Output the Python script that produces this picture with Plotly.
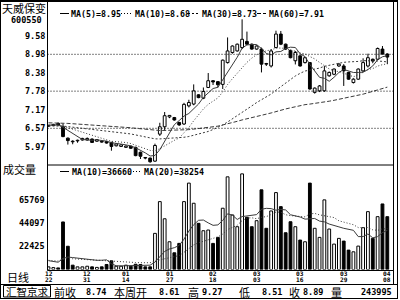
import plotly.graph_objects as go

# ---------------- data ----------------
stock_name = "天威保变"
stock_code = "600550"

opens = [6.64, 6.66, 6.73, 6.62, 6.25, 6.15, 6.16, 6.19, 6.19, 6.22,
         6.15, 6.15, 6.14, 6.11, 6.00, 5.98, 5.95, 5.99, 5.95, 5.79,
         5.61, 5.60, 5.50, 6.38, 6.62, 6.94, 6.92, 6.76, 6.71, 7.30,
         7.36, 7.66, 7.55, 7.90, 8.12, 8.09, 8.00, 8.71, 9.04, 9.09,
         9.20, 9.40, 9.31, 9.15, 9.15, 8.67, 8.60, 9.20, 9.64, 9.31,
         9.11, 8.77, 8.93, 8.71, 8.71, 7.74, 7.79, 7.79, 8.28, 8.33,
         8.60, 8.60, 8.39, 8.06, 8.17, 8.44, 8.60, 8.82, 8.82, 9.15,
         8.99]
highs = [6.68, 6.72, 6.76, 6.72, 6.27, 6.18, 6.20, 6.26, 6.27, 6.24,
         6.22, 6.17, 6.16, 6.13, 6.08, 6.05, 6.01, 6.00, 5.97, 5.81,
         5.63, 5.62, 6.07, 6.75, 7.10, 7.00, 6.94, 6.78, 7.40, 7.50,
         8.00, 7.68, 7.90, 8.37, 8.14, 8.11, 8.81, 9.53, 9.27, 9.33,
         10.12, 9.72, 9.33, 9.27, 9.20, 8.70, 9.15, 9.75, 9.74, 9.33,
         9.13, 9.09, 8.95, 8.90, 8.73, 7.90, 7.98, 8.60, 8.42, 8.52,
         8.70, 8.66, 8.41, 8.20, 8.52, 8.85, 9.00, 8.84, 9.20, 9.25,
         9.01]
lows = [6.62, 6.64, 6.66, 6.28, 6.04, 6.05, 6.10, 6.17, 6.17, 6.10,
        6.13, 6.10, 6.07, 5.84, 5.98, 5.96, 5.93, 5.90, 5.66, 5.57,
        5.56, 5.45, 5.48, 6.32, 6.49, 6.90, 6.82, 6.65, 6.68, 7.25,
        7.32, 7.55, 7.52, 7.88, 7.98, 7.90, 7.85, 8.68, 9.00, 9.07,
        9.15, 9.28, 9.13, 9.13, 8.39, 8.60, 8.55, 9.18, 9.28, 9.12,
        8.85, 8.65, 8.58, 8.68, 7.83, 7.70, 7.75, 7.76, 8.25, 8.30,
        8.57, 7.95, 8.15, 8.03, 8.15, 8.40, 8.55, 8.69, 8.80, 8.97,
        8.66]
closes = [6.66, 6.69, 6.68, 6.30, 6.17, 6.13, 6.18, 6.24, 6.24, 6.11,
          6.20, 6.12, 6.09, 5.98, 6.06, 6.03, 5.99, 5.92, 5.68, 5.66,
          5.60, 5.48, 6.01, 6.62, 6.98, 6.99, 6.84, 6.68, 7.35, 7.41,
          7.79, 7.57, 7.77, 8.12, 8.08, 7.99, 8.79, 9.09, 9.25, 9.31,
          9.47, 9.31, 9.15, 9.25, 8.66, 8.66, 9.09, 9.64, 9.31, 9.15,
          8.87, 9.04, 8.60, 8.87, 7.85, 7.88, 7.95, 8.44, 8.39, 8.50,
          8.66, 8.44, 8.17, 8.17, 8.50, 8.71, 8.87, 8.76, 9.17, 8.99,
          8.89]
volumes = [2500, 1800, 1500, 45000, 22000, 4100, 2500, 2500, 3100, 2500,
           2000, 2500, 4750, 8200, 3100, 3100, 4100, 3100, 5000, 4700,
           2500, 2500, 34200, 64250, 48000, 26250, 15800, 24700, 64250, 81750,
           62700, 43700, 36700, 37350, 24700, 30400, 58000, 87700, 51600, 40500,
           90500, 49400, 40500, 46200, 75400, 39000, 55400, 72800, 59500, 34800,
           45200, 40500, 27850, 26250, 81750, 39000, 30400, 65900, 38300, 24050,
           29450, 26900, 18350, 16750, 22150, 39550, 54750, 29450, 50000, 62050,
           50000]

date_tick_index = [0, 8, 16, 25, 34, 43, 52, 61, 70]
date_tick_month = ["12", "12", "01", "01", "02", "03", "03", "03", "04"]
date_tick_day = ["22", "31", "14", "27", "18", "03", "16", "29", "08"]

price_ticks = [9.58, 8.98, 8.38, 7.78, 7.17, 6.57, 5.97]
price_grid = [8.98, 7.78, 6.57]
volume_ticks = [65769, 44097, 22425]

ma_periods = [5, 10, 30, 60]
ma_start_level = [6.68, 6.68, 6.65, 6.75]     # level of each MA at the left edge
ma_legend = ["MA(5)=8.95", "MA(10)=8.68", "MA(30)=8.73", "MA(60)=7.91"]
vol_ma_periods = [10, 20]
vol_ma_start_level = [9000, 9000]
vol_ma_legend = ["MA(10)=36660", "MA(20)=38254"]

footer_code_name = "汇智京求"
footer_labels = ["前收", "本周开", "高", "低", "收", "量"]
footer_values = ["8.74", "8.61", "9.27", "8.51", "8.89", "243995"]

# ---------------- geometry ----------------
W, H = 400, 300
def px(x): return x / W
def py(y): return 1 - y / H

X0, DX = 48.5, 4.84
PLOT_L, PLOT_R = 47.5, 393.5
PRICE_A, PRICE_K = 330.0, 30.7
PRICE_TOP, PRICE_BOT = 3.0, 164.5
VOL_ZERO, VOL_K = 269.5, 946.4
VOL_TOP = 166.0

def price_at(y): return (PRICE_A - y) / PRICE_K
def vol_at(y): return (VOL_ZERO - y) * VOL_K

n = len(closes)
idx = list(range(n))

def seeded_ma(vals, period, start):
    padded = [start] * (period - 1) + list(vals)
    return [sum(padded[i:i + period]) / period for i in range(n)]

MONO = "DejaVu Sans Mono"
CJK = "Noto Sans CJK SC"
LINE_C = "#3a3a3a"

fig = go.Figure()

# wicks (drawn outside bodies so hollow candles stay hollow)
wx, wy = [], []
for i in idx:
    top = max(opens[i], closes[i]); bot = min(opens[i], closes[i])
    if highs[i] > top:
        wx += [i, i, None]; wy += [highs[i], top, None]
    if lows[i] < bot:
        wx += [i, i, None]; wy += [bot, lows[i], None]
fig.add_trace(go.Scatter(x=wx, y=wy, mode="lines", line=dict(color="black", width=1),
                         xaxis="x", yaxis="y", hoverinfo="skip"))

up = [closes[i] >= opens[i] for i in idx]
body_base = [min(opens[i], closes[i]) for i in idx]
body_h = [max(abs(closes[i] - opens[i]), 0.02) for i in idx]
fill = ["white" if u else "black" for u in up]
fig.add_trace(go.Bar(x=idx, y=body_h, base=body_base, width=0.58,
                     marker=dict(color=fill, line=dict(color="black", width=1)),
                     xaxis="x", yaxis="y"))

ma_dash = ["solid", "1px,2px", "2px,2px", "4px,2px"]
for p, s, d in zip(ma_periods, ma_start_level, ma_dash):
    fig.add_trace(go.Scatter(x=idx, y=seeded_ma(closes, p, s), mode="lines",
                             line=dict(color=LINE_C, width=1, dash=d),
                             xaxis="x", yaxis="y", hoverinfo="skip"))

fig.add_trace(go.Bar(x=idx, y=volumes, width=0.58,
                     marker=dict(color=fill, line=dict(color="black", width=1)),
                     xaxis="x2", yaxis="y2"))
vol_dash = ["solid", "1px,2px"]
for p, s, d in zip(vol_ma_periods, vol_ma_start_level, vol_dash):
    fig.add_trace(go.Scatter(x=idx, y=seeded_ma(volumes, p, s), mode="lines",
                             line=dict(color=LINE_C, width=1, dash=d),
                             xaxis="x2", yaxis="y2", hoverinfo="skip"))

xr = [(PLOT_L - X0) / DX, (PLOT_R - X0) / DX]
hidden = dict(visible=False, showgrid=False, zeroline=False, fixedrange=True)
fig.update_layout(
    width=W, height=H, margin=dict(l=0, r=0, t=0, b=0),
    paper_bgcolor="white", plot_bgcolor="white", showlegend=False,
    barmode="overlay",
    xaxis=dict(domain=[px(PLOT_L), px(PLOT_R)], range=xr, anchor="y", **hidden),
    yaxis=dict(domain=[py(PRICE_BOT), py(PRICE_TOP)],
               range=[price_at(PRICE_BOT), price_at(PRICE_TOP)], anchor="x", **hidden),
    xaxis2=dict(domain=[px(PLOT_L), px(PLOT_R)], range=xr, anchor="y2", **hidden),
    yaxis2=dict(domain=[py(VOL_ZERO), py(VOL_TOP)],
                range=[0, vol_at(VOL_TOP)], anchor="x2", **hidden),
)

shapes = []
def hline(y, x0, x1, w=1, dash="solid"):
    shapes.append(dict(type="line", xref="paper", yref="paper", x0=px(x0), x1=px(x1),
                       y0=py(y), y1=py(y), line=dict(color="black", width=w, dash=dash)))
def vline(x, y0, y1, w=1):
    shapes.append(dict(type="line", xref="paper", yref="paper", x0=px(x), x1=px(x),
                       y0=py(y0), y1=py(y1), line=dict(color="black", width=w)))

# frame
hline(1.0, 0, 398, 2)
hline(298.5, 0, 398)
vline(0.5, 0, 299)
vline(397.5, 0, 299)
vline(393.5, 0, 284.5)
vline(47.5, 0, 270.5)
hline(165.0, 47.5, 393.5)
hline(270.5, 47.5, 393.5)
hline(284.5, 0, 398)
# code box in footer
shapes.append(dict(type="rect", xref="paper", yref="paper", x0=px(3.5), x1=px(50.5),
                   y0=py(297), y1=py(285.5), line=dict(color="black", width=1)))
# dotted price grid
for g in price_grid:
    shapes.append(dict(type="line", xref="paper", yref="y", x0=px(PLOT_L), x1=px(PLOT_R),
                       y0=g, y1=g, line=dict(color="black", width=1, dash="1px,2px")))
# legend samples
leg_y = 13.5
for (x0, x1), d in zip([(60, 69), (121, 132), (188, 199), (257, 266)], ma_dash):
    shapes.append(dict(type="line", xref="paper", yref="paper", x0=px(x0), x1=px(x1),
                       y0=py(leg_y), y1=py(leg_y), line=dict(color="black", width=1, dash=d)))
vleg_y = 171.5
for (x0, x1), d in zip([(60, 69), (133, 142)], vol_dash):
    shapes.append(dict(type="line", xref="paper", yref="paper", x0=px(x0), x1=px(x1),
                       y0=py(vleg_y), y1=py(vleg_y), line=dict(color="black", width=1, dash=d)))
fig.update_layout(shapes=shapes)

ann = []
def text(x, y, t, size, family=MONO, anchor="left", bold=False, yref="paper", yv=None):
    ann.append(dict(x=px(x), y=(py(y) if yv is None else yv), xref="paper", yref=yref,
                    text=("<b>%s</b>" % t) if bold else t, showarrow=False,
                    xanchor=anchor, yanchor="middle", borderpad=0,
                    font=dict(family=family, size=size, color="black")))

text(24, 8, stock_name, 11, CJK, "center")
text(43, 20, stock_code, 8.5, MONO, "right", True)
for t in price_ticks:
    text(46, 0, "%.2f" % t, 8.5, MONO, "right", True, yref="y", yv=t)
text(1.5, 168.5, "成交量", 11, CJK, "left")
for v in volume_ticks:
    text(46, VOL_ZERO - v / VOL_K, str(v), 8.5, MONO, "right", True)

for x, t in zip([70, 133.5, 200.5, 267.5], ma_legend):
    text(x, leg_y, t, 8.3, MONO, "left", True)
for x, t in zip([70.5, 143], vol_ma_legend):
    text(x, vleg_y, t, 8.3, MONO, "left", True)

for i, m, d in zip(date_tick_index, date_tick_month, date_tick_day):
    xx = X0 + DX * i
    text(xx, 273.5, m, 6.2, MONO, "center", True)
    text(xx, 279.8, d, 6.2, MONO, "center", True)
text(6, 276.5, "日线", 11, CJK, "left")

text(27, 291.5, footer_code_name, 10.5, CJK, "center")
label_x = [53, 113, 187, 238, 287.5, 330]
value_x = [106.5, 180, 223, 282.5, 324, 393]
for x, t in zip(label_x, footer_labels):
    text(x, 291.5, t, 11, CJK, "left")
for x, t in zip(value_x, footer_values):
    text(x, 291.5, t, 8.5, MONO, "right", True)

fig.update_layout(annotations=ann)
fig.write_html("out.html", config={"displayModeBar": False})
